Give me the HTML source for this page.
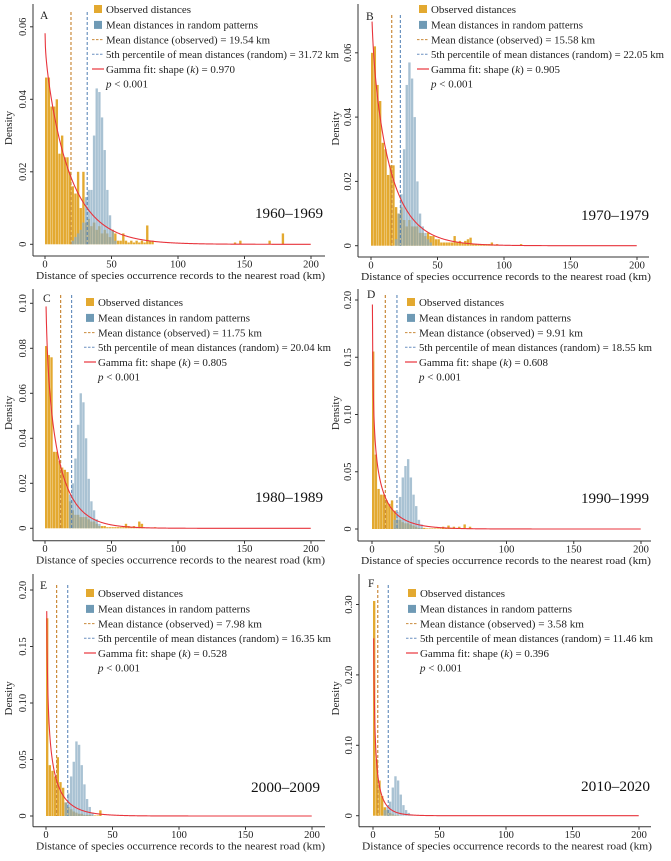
<!DOCTYPE html>
<html><head><meta charset="utf-8">
<style>
html,body{margin:0;padding:0;background:#fff;}
svg{display:block;font-family:"Liberation Serif",serif;}
</style></head>
<body>
<svg id="fig" width="671" height="861" viewBox="0 0 671 861" xmlns="http://www.w3.org/2000/svg"></svg>
<script>
// ---- data (density per 2-km bin, bin starts at 0 / rndStart) ----
const binWidth = 2;
const letters = ["A","B","C","D","E","F"];
const periods = ["1960–1969","1970–1979","1980–1989","1990–1999","2000–2009","2010–2020"];
const meanObs = [19.54,15.58,11.75,9.91,7.98,3.58];
const pct5 = [31.72,22.05,20.04,18.55,16.35,11.46];
const shapeK = [0.970,0.905,0.805,0.608,0.528,0.396];
const curveTop = [0.062,0.070,0.100,0.200,0.200,0.320];
const yMax = [0.064,0.072,0.104,0.205,0.205,0.33];
const yTicksA = [0,0.02,0.04,0.06];
const yTicksC = [0,0.02,0.04,0.06,0.08,0.10];
const yTicksD = [0,0.05,0.10,0.15,0.20];
const yTicksF = [0,0.10,0.20,0.30];
const yTickLabelsA = ["0","0.02","0.04","0.06"];
const yTickLabelsC = ["0","0.02","0.04","0.06","0.08","0.10"];
const yTickLabelsD = ["0","0.05","0.10","0.15","0.20"];
const yTickLabelsF = ["0","0.10","0.20","0.30"];
const xTicks = [0,50,100,150,200];
const obsA = [0.046,0.046,0.038,0.038,0.040,0.025,0.030,0.024,0.024,0.020,0.016,0.014,0.020,0.010,0.020,0.006,0.007,0.005,0.006,0.004,0.005,0.003,0.004,0.003,0.002,0.004,0.003,0.001,0.001,0.003,0.001,0.0005,0.001,0.0005,0.001,0.0005,0.001,0.0005,0.0052,0.001,0.001];
const obsB = [0.060,0.062,0.050,0.045,0.032,0.030,0.022,0.025,0.025,0.012,0.010,0.012,0.008,0.006,0.008,0.006,0.006,0.006,0.004,0.004,0.003,0.004,0.003,0.003,0.002,0.002,0.001,0.001,0.001,0.001,0.001,0.003,0.001,0.0015,0.001,0.0015,0.002,0.0025,0.0005,0.0005,0.0005,0.0005,0.0005,0.0005,0.0005,0.001,0.0003,0.0005];
const obsC = [0.081,0.077,0.076,0.034,0.034,0.030,0.027,0.026,0.025,0.012,0.008,0.006,0.006,0.005,0.005,0.005,0.004,0.003,0.003,0.002,0.001,0.001,0.001,0.0005,0.0005,0.0005,0.0005,0.0005,0.0005,0.0005,0.002,0.001,0.0005,0.001,0.0005,0.003,0.002,0.0003,0.0003,0.0003,0.0003,0.0005];
const obsD = [0.155,0.065,0.035,0.030,0.030,0.025,0.022,0.025,0.016,0.008,0.008,0.006,0.005,0.005,0.004,0.003,0.002,0.001,0.001,0.001,0.0005,0.0005,0.0005,0.0005,0.0005,0.0005,0.002,0.0005,0.003,0.0005,0.002,0.0005,0.002,0.0005,0.004,0.0005,0.002];
const obsE = [0.175,0.045,0.040,0.035,0.052,0.030,0.025,0.012,0.008,0.006,0.004,0.003,0.002,0.002,0.001,0.001,0.001,0.0005,0.0005,0.0005,0.005];
const obsF = [0.305,0.080,0.050,0.028,0.012,0.008,0.004,0.002,0.001,0.0005];
// sparse far outliers: bin starts (km) and densities
const outlierBinsA = [142,146,168,178];
const outlierValsA = [0.0005,0.001,0.001,0.003];
const outlierBinsB = [112];
const outlierValsB = [0.0005];
const rndA = [0.001,0.002,0.003,0.004,0.006,0.013,0.015,0.015,0.030,0.043,0.042,0.035,0.026,0.015,0.008,0.004,0.001];
const rndB = [0.002,0.010,0.016,0.030,0.050,0.057,0.052,0.040,0.020,0.010,0.006,0.004,0.002,0.001];
const rndC = [0.015,0.020,0.031,0.046,0.060,0.056,0.040,0.022,0.012,0.008,0.004,0.002];
const rndD = [0.008,0.015,0.028,0.045,0.055,0.061,0.045,0.030,0.020,0.008,0.004];
const rndE = [0.012,0.020,0.035,0.048,0.066,0.063,0.045,0.028,0.015,0.008,0.003];
const rndF = [0.008,0.012,0.020,0.040,0.056,0.050,0.030,0.015,0.008,0.004,0.002];
const rndStart = [20,18,18,16,14,8];

// ---- layout ----
const L = [
 {x0:45,x200:311,y0:244.3,yScale:72.5/0.02,axL:33,axB:256,axR:325,axT:4,legX:94,legY:9,letX:40,letY:19,yrX:255,yrY:218,yrW:68,dTop:12,denX:12,titleW:289},
 {x0:371,x200:637,y0:245.7,yScale:64.3/0.02,axL:358,axB:257,axR:649,axT:4,legX:419,legY:9,letX:366,letY:20,yrX:581,yrY:220,yrW:68,dTop:15,denX:339,titleW:290},
 {x0:45,x200:311,y0:528.3,yScale:45/0.02,axL:33,axB:540.7,axR:325,axT:289,legX:86,legY:302,letX:43,letY:302,yrX:255,yrY:502,yrW:68,dTop:295,denX:12,titleW:289},
 {x0:372,x200:641,y0:529,yScale:57.25/0.05,axL:358,axB:541,axR:651,axT:289,legX:407,legY:302,letX:367,letY:298,yrX:581,yrY:503,yrW:68,dTop:295,denX:339,titleW:290},
 {x0:46,x200:312,y0:816,yScale:56.5/0.05,axL:33,axB:826.7,axR:325,axT:574,legX:86,legY:593,letX:40,letY:589,yrX:251,yrY:792,yrW:69,dTop:585,denX:12,titleW:289},
 {x0:373,x200:639,y0:815.7,yScale:70.4/0.10,axL:359,axB:826.7,axR:651,axT:574,legX:408,legY:593,letX:368,letY:587,yrX:581,yrY:791,yrW:69,dTop:585,denX:339,titleW:290}
];
const obsAll=[obsA,obsB,obsC,obsD,obsE,obsF];
const outBinsAll=[outlierBinsA,outlierBinsB,[],[],[],[]];
const outValsAll=[outlierValsA,outlierValsB,[],[],[],[]];
const rndAll=[rndA,rndB,rndC,rndD,rndE,rndF];
const ticksAll=[yTicksA,yTicksA,yTicksC,yTicksD,yTicksD,yTicksF];
const tickLabAll=[yTickLabelsA,yTickLabelsA,yTickLabelsC,yTickLabelsD,yTickLabelsD,yTickLabelsF];

const NS="http://www.w3.org/2000/svg";
const svg=document.getElementById('fig');
function mk(tag,attrs,parent){const e=document.createElementNS(NS,tag);for(const k in attrs)e.setAttribute(k,attrs[k]);(parent||svg).appendChild(e);return e;}
function lgamma(z){const g=7,c=[0.99999999999980993,676.5203681218851,-1259.1392167224028,771.32342877765313,-176.61502916214059,12.507343278686905,-0.13857109526572012,9.9843695780195716e-6,1.5056327351493116e-7];
 if(z<0.5)return Math.log(Math.PI/Math.sin(Math.PI*z))-lgamma(1-z);z-=1;let x=c[0];for(let i=1;i<g+2;i++)x+=c[i]/(z+i);const t=z+g+0.5;return 0.5*Math.log(2*Math.PI)+(z+0.5)*Math.log(t)-t+Math.log(x);}
function gammaPdf(x,k,th){return Math.exp((k-1)*Math.log(x)-x/th-lgamma(k)-k*Math.log(th));}

L.forEach((p,i)=>{
 const g=mk('g',{});
 
 
 const xs=v=>p.x0+(p.x200-p.x0)*v/200;
 const ys=v=>p.y0-v*p.yScale;
 const bw=xs(binWidth)-xs(0)-0.3;
 const clipId='clip'+i;
 const cp=mk('clipPath',{id:clipId},g);
 mk('rect',{x:p.axL,y:ys(yMax[i]),width:p.axR-p.axL,height:p.y0-ys(yMax[i])+1},cp);
 const go=mk('g',{},g);
 
 
 obsAll[i].forEach((v,j)=>{
  const b=mk('rect',{x:xs(j*binWidth),y:ys(v),width:bw,height:p.y0-ys(v),fill:'#E3A930'},go);
  
  
 });
 outBinsAll[i].forEach((s,j)=>{
  const v=outValsAll[i][j];
  const b=mk('rect',{x:xs(s),y:ys(v),width:bw,height:p.y0-ys(v),fill:'#E3A930'},go);
  
  
 });
 const gr=mk('g',{},g);
 
 
 rndAll[i].forEach((v,j)=>{
  const s=rndStart[i]+j*binWidth;
  const b=mk('rect',{x:xs(s),y:ys(v),width:bw,height:p.y0-ys(v),fill:'#88AAC2','fill-opacity':0.72},gr);
  
  
 });
 const m1=mk('line',{x1:xs(meanObs[i]),x2:xs(meanObs[i]),y1:p.dTop,y2:p.y0,stroke:'#C98A3A','stroke-width':1.2,'stroke-dasharray':'3,2'},g);
 
 
 const m2=mk('line',{x1:xs(pct5[i]),x2:xs(pct5[i]),y1:p.dTop,y2:p.y0,stroke:'#4E7DB3','stroke-width':1,'stroke-dasharray':'3,2'},g);
 
 
 const th=meanObs[i]/shapeK[i];let d='';let started=false;
 for(let x=0.05;x<=200;x+=0.25){const y=gammaPdf(x,shapeK[i],th);if(!started&&y>curveTop[i])continue;d+=(started?'L':'M')+xs(x).toFixed(2)+','+ys(y).toFixed(2);started=true;}
 const c=mk('path',{d:d,fill:'none',stroke:'#E8343C','stroke-width':1.1,'clip-path':'url(#'+clipId+')'},g);
 
 
 const ax=mk('g',{stroke:'#333','stroke-width':1},g);
 
 
 mk('line',{x1:p.axL,x2:p.axL,y1:p.axT,y2:p.axB},ax);
 mk('line',{x1:p.axL,x2:p.axR,y1:p.axB,y2:p.axB},ax);
 ticksAll[i].forEach((t,j)=>{
  mk('line',{x1:p.axL-3,x2:p.axL,y1:ys(t),y2:ys(t)},ax);
  const tl=mk('text',{x:p.axL-7,y:ys(t),'font-size':10.5,'text-anchor':'middle',fill:'#222',transform:'rotate(-90 '+(p.axL-7)+' '+ys(t)+')'},g);
  tl.textContent=tickLabAll[i][j];
  
  
 });
 xTicks.forEach(t=>{
  mk('line',{x1:xs(t),x2:xs(t),y1:p.axB,y2:p.axB+3},ax);
  const tl=mk('text',{x:xs(t),y:p.axB+11.5,'font-size':10.5,'text-anchor':'middle',fill:'#222'},g);
  tl.textContent=String(t);
  
  
 });
 const xt=mk('text',{x:p.axL+3,y:p.axB+23,'font-size':11,fill:'#222',textLength:p.titleW,lengthAdjust:'spacingAndGlyphs'},g);
 xt.textContent='Distance of species occurrence records to the nearest road (km)';
 
 
 const cy=(p.axT+p.axB)/2-2;
 const yt=mk('text',{x:p.denX,y:cy,'font-size':11,'text-anchor':'middle',fill:'#222',transform:'rotate(-90 '+p.denX+' '+cy+')'},g);
 yt.textContent='Density';
 
 
 const lt=mk('text',{x:p.letX,y:p.letY,'font-size':11.5,fill:'#222'},g);
 lt.textContent=letters[i];
 
 
 const yr=mk('text',{x:p.yrX,y:p.yrY,'font-size':15,fill:'#111',textLength:p.yrW,lengthAdjust:'spacingAndGlyphs'},g);
 yr.textContent=periods[i];
 
 
 const lg=mk('g',{},g);
 
 
 const sx=p.legX, tx=p.legX+12, step=14.7;
 const rows=[
  ['Observed distances',85],
  ['Mean distances in random patterns',152],
  ['Mean distance (observed) = '+meanObs[i].toFixed(2)+' km',164],
  ['5th percentile of mean distances (random) = '+pct5[i].toFixed(2)+' km',233],
  ['Gamma fit: shape (k) = '+shapeK[i].toFixed(3),129]
 ];
 rows.forEach((r,j)=>{
  const ry=p.legY+j*step+(j>0?1.2:0);
  if(j===0) mk('rect',{x:sx,y:ry-4,width:8,height:8,fill:'#E3A930'},lg);
  if(j===1) mk('rect',{x:sx,y:ry-4,width:8,height:8,fill:'#6F9AB5'},lg);
  if(j===2) mk('line',{x1:sx-2,x2:tx-2,y1:ry,y2:ry,stroke:'#C98A3A','stroke-width':1,'stroke-dasharray':'2.5,1.5'},lg);
  if(j===3) mk('line',{x1:sx-2,x2:tx-2,y1:ry,y2:ry,stroke:'#6A8FC0','stroke-width':1,'stroke-dasharray':'2.5,1.5'},lg);
  if(j===4) mk('line',{x1:sx-2,x2:tx-2,y1:ry,y2:ry,stroke:'#E8343C','stroke-width':1.2},lg);
  const t=mk('text',{x:tx,y:ry+3.8,'font-size':11,fill:'#222',textLength:r[1],lengthAdjust:'spacingAndGlyphs'},lg);
  if(j===4){t.innerHTML='Gamma fit: shape (<tspan font-style="italic">k</tspan>) = '+shapeK[i].toFixed(3);}
  else t.textContent=r[0];
  
  
 });
 const pt=mk('text',{x:tx,y:p.legY+5*step+1.2+3.8,'font-size':11,fill:'#222'},lg);
 pt.innerHTML='<tspan font-style="italic">p</tspan> &lt; 0.001';
 
 
});
</script>
</body></html>
